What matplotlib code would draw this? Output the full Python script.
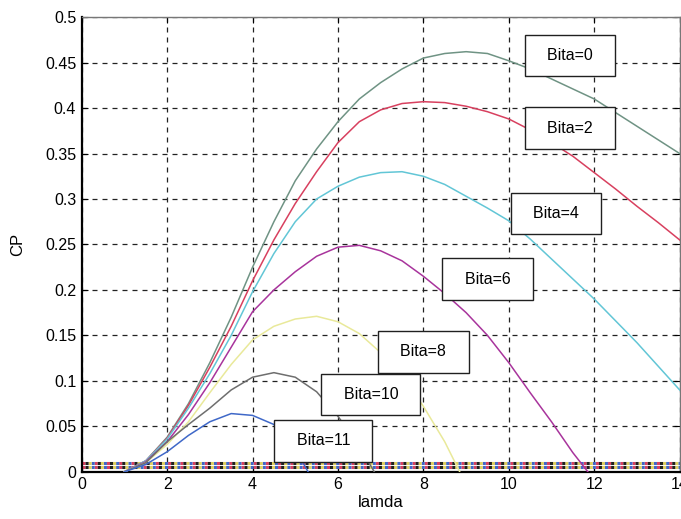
import matplotlib
matplotlib.use('Agg')
import matplotlib.pyplot as plt
import numpy as np

plt.rcParams['font.family'] = ['Liberation Sans', 'DejaVu Sans']

# lamda values (shared grid), CP per pitch angle
lam = [1, 1.5, 2, 2.5, 3, 3.5, 4, 4.5, 5, 5.5, 6, 6.5, 7, 7.5, 8, 8.5, 9,
       9.5, 10, 10.5, 11, 11.5, 12, 12.5, 13, 13.5, 14]
cp_b0 = [0, 0.012, 0.038, 0.075, 0.12, 0.17, 0.225, 0.275, 0.32, 0.355, 0.385,
         0.41, 0.428, 0.443, 0.455, 0.46, 0.462, 0.46, 0.452, 0.443, 0.432,
         0.421, 0.41, 0.395, 0.38, 0.365, 0.35]
cp_b2 = [0, 0.012, 0.037, 0.073, 0.115, 0.16, 0.21, 0.255, 0.295, 0.33, 0.362,
         0.385, 0.398, 0.405, 0.407, 0.406, 0.402, 0.396, 0.388, 0.376, 0.362,
         0.347, 0.329, 0.311, 0.292, 0.274, 0.255]
cp_b4 = [0, 0.012, 0.036, 0.07, 0.108, 0.15, 0.198, 0.24, 0.275, 0.3, 0.314,
         0.324, 0.329, 0.33, 0.325, 0.316, 0.303, 0.29, 0.276, 0.256, 0.234,
         0.212, 0.19, 0.166, 0.142, 0.116, 0.09]
lam_b6 = [1, 1.5, 2, 2.5, 3, 3.5, 4, 4.5, 5, 5.5, 6, 6.5, 7, 7.5, 8, 8.5, 9,
          9.5, 10, 10.5, 11, 11.5, 11.85]
cp_b6 = [0, 0.011, 0.033, 0.063, 0.098, 0.137, 0.176, 0.2, 0.22, 0.237, 0.247,
         0.249, 0.243, 0.232, 0.215, 0.196, 0.175, 0.15, 0.12, 0.087, 0.055,
         0.021, 0]
lam_b8 = [1, 1.5, 2, 2.5, 3, 3.5, 4, 4.5, 5, 5.5, 6, 6.5, 7, 7.5, 8, 8.5, 8.85]
cp_b8 = [0, 0.01, 0.03, 0.055, 0.087, 0.118, 0.145, 0.16, 0.168, 0.171, 0.165,
         0.152, 0.131, 0.106, 0.072, 0.033, 0]
lam_b10 = [1, 1.5, 2, 2.5, 3, 3.5, 4, 4.5, 5, 5.5, 6, 6.5, 6.85]
cp_b10 = [0, 0.01, 0.033, 0.052, 0.07, 0.09, 0.104, 0.109, 0.104, 0.088, 0.061,
          0.028, 0]
lam_b11 = [1, 1.5, 2, 2.5, 3, 3.5, 4, 4.5, 5, 5.3]
cp_b11 = [0, 0.008, 0.022, 0.04, 0.055, 0.064, 0.062, 0.052, 0.025, 0]

labels = ['Bita=0', 'Bita=2', 'Bita=4', 'Bita=6', 'Bita=8', 'Bita=10', 'Bita=11']
colors = ['#6f9384', '#d8405f', '#62c6d6', '#a8349c', '#e9e99a', '#6e6e6e', '#3f68c8']
# label box centres (lamda, CP)
label_x = [11.43, 11.43, 11.1, 9.5, 8.0, 6.77, 5.66]
label_y = [0.458, 0.378, 0.284, 0.212, 0.132, 0.085, 0.034]

# dotted band along the bottom
band_y = [0.0095, 0.0055]
band_colors = ['#d84060', '#3f68c8', '#e0d060', '#202020']

series = [(lam, cp_b0), (lam, cp_b2), (lam, cp_b4), (lam_b6, cp_b6),
          (lam_b8, cp_b8), (lam_b10, cp_b10), (lam_b11, cp_b11)]

fig = plt.figure(figsize=(6.81, 5.19), dpi=100)
ax = fig.add_axes([0.12, 0.091, 0.878, 0.876])

for yb in band_y:
    for i, c in enumerate(band_colors):
        ax.plot([0, 14], [yb, yb], color=c, linewidth=2.2,
                linestyle=(i * 1.0, (1.0, 3.0)), zorder=2)

for (xs, ys), c in zip(series, colors):
    ax.plot(xs, ys, color=c, linewidth=1.1, zorder=3)

for t, lx, ly in zip(labels, label_x, label_y):
    ax.text(lx, ly, '  ' + t + '  ', fontsize=11.5, ha='center', va='center',
            zorder=5,
            bbox=dict(boxstyle='square,pad=0.83', facecolor='white',
                      edgecolor='#202020', linewidth=1))

ax.set_xlim(0, 14)
ax.set_ylim(0, 0.5)
ax.set_xticks(np.arange(0, 15, 2))
ax.set_yticks(np.arange(0, 0.51, 0.05))
ax.set_yticklabels(['0', '0.05', '0.1', '0.15', '0.2', '0.25', '0.3', '0.35',
                    '0.4', '0.45', '0.5'])
ax.tick_params(direction='in', top=True, right=True, labelsize=11.5,
               length=4, pad=4)
ax.grid(True, color='#222222', linestyle=(0, (4, 4)), linewidth=0.9)
for s in ['left', 'bottom']:
    ax.spines[s].set_linewidth(1.6)
for s in ['top', 'right']:
    ax.spines[s].set_linewidth(1.0)
    ax.spines[s].set_color('#777777')

ax.set_xlabel('lamda', fontsize=12, labelpad=2)
ax.set_ylabel('CP', fontsize=12, labelpad=14)

fig.savefig('out.png', dpi=100)
